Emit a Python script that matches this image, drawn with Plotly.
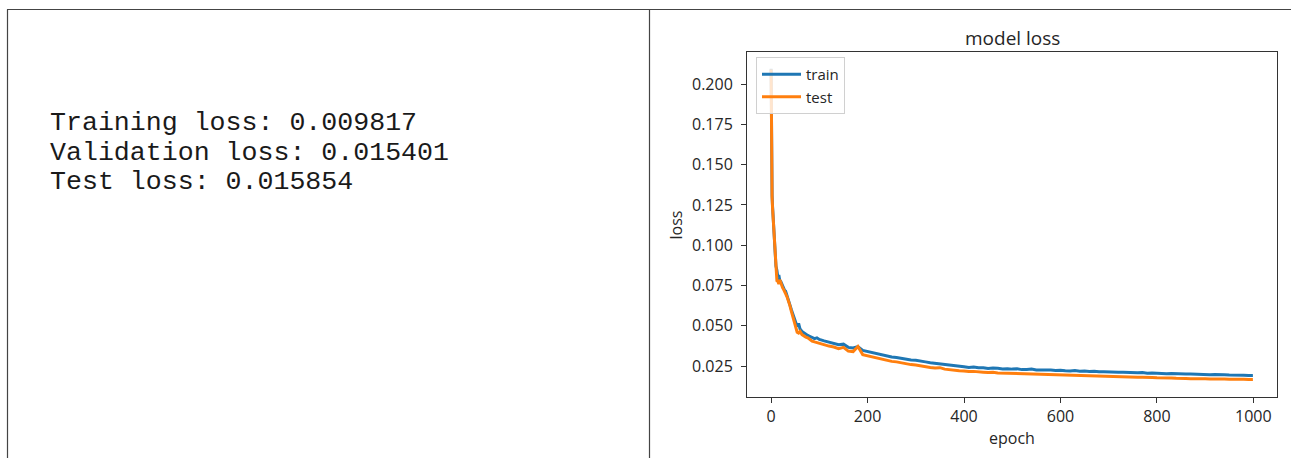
import plotly.graph_objects as go

W, H = 1291, 458

# ---- data ----
summary_lines = [
    "Training loss: 0.009817",
    "Validation loss: 0.015401",
    "Test loss: 0.015854",
]

epochs = [0, 1, 2, 3, 4, 5, 6, 7, 8, 9, 10, 12, 14, 16, 18, 20, 22, 24, 26, 28,
          30, 33, 36, 39, 42, 45, 48, 51, 54, 57, 60, 64, 68, 72, 76, 80, 85, 90, 95, 100,
          110, 120, 130, 140, 150, 160, 170, 180, 190, 200,
          210, 220, 230, 240, 250, 260, 270, 280, 290, 300,
          310, 320, 330, 340, 350, 360, 370, 380, 390, 400,
          410, 420, 430, 440, 450, 460, 470, 480, 490, 500,
          510, 520, 530, 540, 550, 560, 570, 580, 590, 600,
          610, 620, 630, 640, 650, 660, 670, 680, 690, 700,
          710, 720, 730, 740, 750, 760, 770, 780, 790, 800,
          810, 820, 830, 840, 850, 860, 870, 880, 890, 900,
          910, 920, 930, 940, 950, 960, 970, 980, 990, 999]

train_loss = [0.2095, 0.149, 0.131, 0.124, 0.118, 0.114, 0.109, 0.104, 0.099, 0.093,
              0.087, 0.0845, 0.080, 0.0815, 0.078, 0.0775, 0.076, 0.0745, 0.0735, 0.072,
              0.0715, 0.069, 0.0665, 0.063, 0.060, 0.057, 0.054, 0.0515, 0.0495, 0.0515,
              0.048, 0.0465, 0.0455, 0.0445, 0.044, 0.0435, 0.0425, 0.042, 0.0425, 0.0415,
              0.0406, 0.0398, 0.0391, 0.0382, 0.0386, 0.0366, 0.0362, 0.0371, 0.0347, 0.0340,
              0.0331, 0.0327, 0.0318, 0.0314, 0.0306, 0.0303, 0.0297, 0.0294, 0.0287, 0.0286,
              0.0279, 0.0276, 0.0271, 0.0268, 0.0262, 0.0260, 0.0255, 0.0253, 0.0249, 0.0246,
              0.0241, 0.0244, 0.0239, 0.0240, 0.0235, 0.0238, 0.0236, 0.0232, 0.0234, 0.0231,
              0.0233, 0.0228, 0.0229, 0.0231, 0.0226, 0.0227, 0.0224, 0.0226, 0.0222, 0.0224,
              0.0221, 0.0219, 0.0222, 0.0218, 0.0219, 0.0216, 0.0218, 0.0214, 0.0215, 0.0213,
              0.0215, 0.0211, 0.0212, 0.0210, 0.0211, 0.0208, 0.0210, 0.0206, 0.0207, 0.0205,
              0.0206, 0.0203, 0.0204, 0.0202, 0.0203, 0.0200, 0.0201, 0.0199, 0.0200, 0.0197,
              0.0196, 0.0198, 0.0195, 0.0196, 0.0194, 0.0195, 0.0192, 0.0193, 0.0191, 0.0192]

test_loss = [0.2090, 0.148, 0.130, 0.123, 0.117, 0.113, 0.108, 0.103, 0.098, 0.092,
             0.0845, 0.078, 0.0775, 0.076, 0.0785, 0.0765, 0.0745, 0.0735, 0.0725, 0.0715,
             0.070, 0.068, 0.0655, 0.0625, 0.059, 0.0555, 0.052, 0.049, 0.046, 0.0455,
             0.0465, 0.0445, 0.0435, 0.043, 0.0425, 0.0415, 0.0405, 0.040, 0.0395, 0.039,
             0.0384, 0.0374, 0.0368, 0.0358, 0.0366, 0.0343, 0.0340, 0.0372, 0.0321, 0.0314,
             0.0304, 0.0299, 0.0291, 0.0287, 0.0279, 0.0276, 0.0269, 0.0265, 0.0259, 0.0256,
             0.0250, 0.0247, 0.0241, 0.0238, 0.0240, 0.0231, 0.0227, 0.0225, 0.0221, 0.0220,
             0.0216, 0.0217, 0.0213, 0.0212, 0.0210, 0.0211, 0.0207, 0.0206, 0.0207, 0.0204,
             0.0203, 0.0204, 0.0200, 0.0201, 0.0199, 0.0197, 0.0199, 0.0196, 0.0195, 0.0196,
             0.0193, 0.0194, 0.0191, 0.0192, 0.0189, 0.0190, 0.0188, 0.0186, 0.0188, 0.0185,
             0.0184, 0.0185, 0.0182, 0.0183, 0.0181, 0.0180, 0.0181, 0.0178, 0.0179, 0.0177,
             0.0178, 0.0175, 0.0176, 0.0174, 0.0175, 0.0173, 0.0172, 0.0173, 0.0171, 0.0172,
             0.0170, 0.0171, 0.0169, 0.0170, 0.0168, 0.0169, 0.0167, 0.0168, 0.0166, 0.0167]

x_ticks = [0, 200, 400, 600, 800, 1000]
y_ticks = [0.025, 0.050, 0.075, 0.100, 0.125, 0.150, 0.175, 0.200]

# ---- layout helpers (pixel -> paper) ----
def px(x):
    return x / W

def py(y):
    return 1 - y / H

PLOT_L, PLOT_R, PLOT_T, PLOT_B = 747, 1277, 52, 397

fig = go.Figure()
fig.add_trace(go.Scatter(x=epochs, y=train_loss, mode="lines", name="train",
                         line=dict(color="#1f77b4", width=3)))
fig.add_trace(go.Scatter(x=epochs, y=test_loss, mode="lines", name="test",
                         line=dict(color="#ff7f0e", width=3)))

axis_font = dict(family="Open Sans", size=16, color="#262626")

fig.update_layout(
    width=W, height=H,
    margin=dict(l=0, r=0, t=0, b=0),
    paper_bgcolor="white", plot_bgcolor="white",
    showlegend=True,
    legend=dict(x=px(756), y=py(57), xanchor="left", yanchor="top",
                bgcolor="rgba(255,255,255,0.8)", bordercolor="#d0d0d0", borderwidth=1,
                font=dict(family="Open Sans", size=15, color="#262626"),
                itemwidth=39, tracegroupgap=0),
    xaxis=dict(domain=[px(PLOT_L), px(PLOT_R)], range=[-50, 1049],
               tickvals=x_ticks, ticks="outside", ticklen=5, tickcolor="#333",
               showline=True, linecolor="#333", linewidth=1, mirror=True,
               showgrid=False, zeroline=False, tickfont=axis_font, anchor="y"),
    yaxis=dict(domain=[py(PLOT_B), py(PLOT_T)], range=[0.0058, 0.2199],
               tickvals=y_ticks, tickformat=".3f", ticks="outside", ticklen=5,
               tickcolor="#333", showline=True, linecolor="#333", linewidth=1,
               mirror=True, showgrid=False, zeroline=False, tickfont=axis_font,
               ticklabelstandoff=5, anchor="x"),
)

# table borders
border = dict(color="#444", width=1.2)
fig.add_shape(type="line", xref="paper", yref="paper", x0=px(7), x1=1, y0=py(9.5), y1=py(9.5), line=border)
fig.add_shape(type="line", xref="paper", yref="paper", x0=px(7.5), x1=px(7.5), y0=py(9.5), y1=0, line=border)
fig.add_shape(type="line", xref="paper", yref="paper", x0=px(649.5), x1=px(649.5), y0=py(9.5), y1=0, line=border)

# left-hand text output
for line, yc in zip(summary_lines, [123, 153, 182]):
    fig.add_annotation(x=px(48), y=py(yc), xref="paper", yref="paper",
                       xanchor="left", yanchor="middle", showarrow=False,
                       text=line.replace(" ", "&nbsp;"),
                       font=dict(family="Liberation Mono", size=26.6, color="#1a1a1a"))

# chart title and axis labels
fig.add_annotation(x=px((PLOT_L + PLOT_R) / 2), y=py(38), xref="paper", yref="paper",
                   text="model loss", showarrow=False, xanchor="center", yanchor="middle",
                   font=dict(family="Open Sans", size=19, color="#262626"))
fig.add_annotation(x=px((PLOT_L + PLOT_R) / 2), y=py(438), xref="paper", yref="paper",
                   text="epoch", showarrow=False, xanchor="center", yanchor="middle",
                   font=dict(family="Open Sans", size=16, color="#262626"))
fig.add_annotation(x=px(675), y=py((PLOT_T + PLOT_B) / 2), xref="paper", yref="paper",
                   text="loss", showarrow=False, textangle=-90, xanchor="center", yanchor="middle",
                   font=dict(family="Open Sans", size=16, color="#262626"))

fig.write_html("out.html",
               config={"displayModeBar": False},
               post_script="document.body.style.margin='0';document.body.style.overflow='hidden';")
